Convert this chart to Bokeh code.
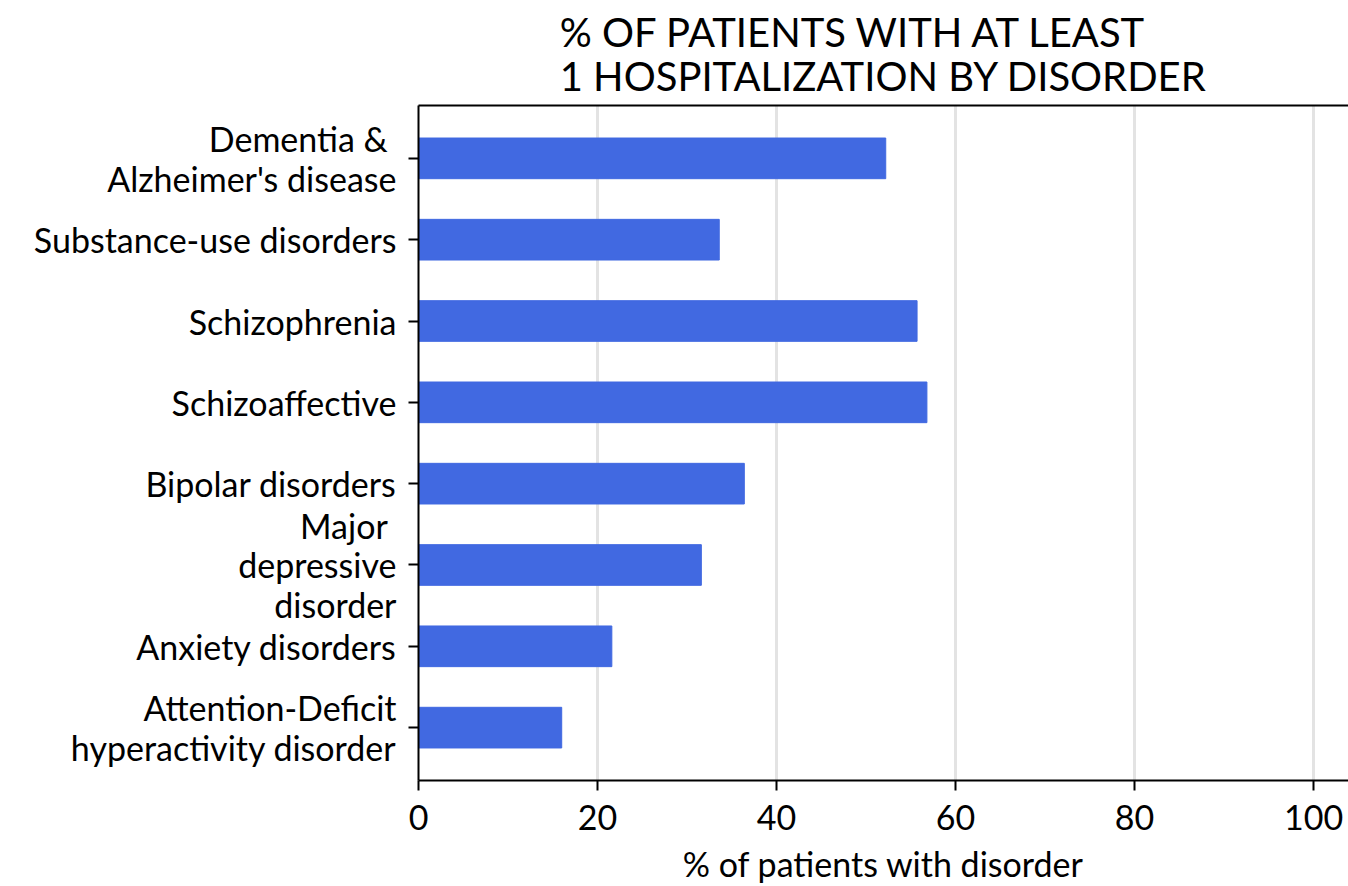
from bokeh.plotting import figure
from bokeh.models import FactorRange, Range1d, LinearAxis, FixedTicker
from bokeh.embed import file_html
from bokeh.resources import INLINE

# ---- data ----
disorders = [
    "Dementia & \nAlzheimer's disease",
    "Substance-use disorders",
    "Schizophrenia",
    "Schizoaffective",
    "Bipolar disorders",
    "Major \ndepressive\ndisorder",
    "Anxiety disorders",
    "Attention-Deficit\nhyperactivity disorder",
]
pct_hospitalized = [52.2, 33.6, 55.7, 56.8, 36.4, 31.6, 21.6, 16.0]
x_ticks = [0, 20, 40, 60, 80, 100]
title_text = "% OF PATIENTS WITH AT LEAST\n1 HOSPITALIZATION BY DISORDER"
x_label = "% of patients with disorder"

FONT = "Lato"
BAR = "#4169E1"

p = figure(
    width=1348, height=886,
    y_range=FactorRange(factors=disorders[::-1], range_padding=0.15,
                        range_padding_units="absolute"),
    x_range=Range1d(0, 103.9),
    output_backend="svg", toolbar_location=None,
    min_border_left=418, min_border_right=0,
    min_border_top=103, min_border_bottom=106,
)
p.outline_line_color = None

p.title.text = title_text
p.title.align = "center"
p.title.text_font = FONT
p.title.text_font_size = "40px"
p.title.text_font_style = "normal"
p.title.text_color = "black"
p.title.text_line_height = 0.93
p.title.standoff = 10

# top border line
top = LinearAxis(ticker=FixedTicker(ticks=[]), major_label_text_font_size="0px",
                 major_tick_line_color=None, minor_tick_line_color=None,
                 axis_line_width=2, axis_line_color="black",
                 major_label_standoff=0)
p.add_layout(top, "above")

p.hbar(y=disorders, left=0, right=pct_hospitalized, height=0.5,
       fill_color=BAR, line_color=BAR)

p.xgrid.ticker = FixedTicker(ticks=x_ticks)
p.xgrid.grid_line_color = "#e3e3e3"
p.xgrid.grid_line_width = 3
p.ygrid.visible = False

xa = p.below[0]
xa.ticker = FixedTicker(ticks=x_ticks)
xa.axis_label = x_label
xa.axis_label_text_font = FONT
xa.axis_label_text_font_size = "34px"
xa.axis_label_text_font_style = "normal"
xa.axis_label_standoff = 10
xa.major_label_text_font = FONT
xa.major_label_text_font_size = "34px"
xa.major_label_standoff = 14

ya = p.left[0]
ya.major_label_text_font = FONT
ya.major_label_text_font_size = "34px"
ya.major_label_text_line_height = 0.97
ya.major_label_standoff = 12

for ax in (xa, ya):
    ax.axis_line_width = 2
    ax.axis_line_color = "black"
    ax.major_tick_line_width = 2
    ax.major_tick_line_color = "black"
    ax.major_tick_out = 10
    ax.major_tick_in = 0
    ax.minor_tick_line_color = None
    ax.major_label_text_color = "black"
    ax.axis_label_text_color = "black"

open("out.html", "w").write(file_html(p, INLINE))
